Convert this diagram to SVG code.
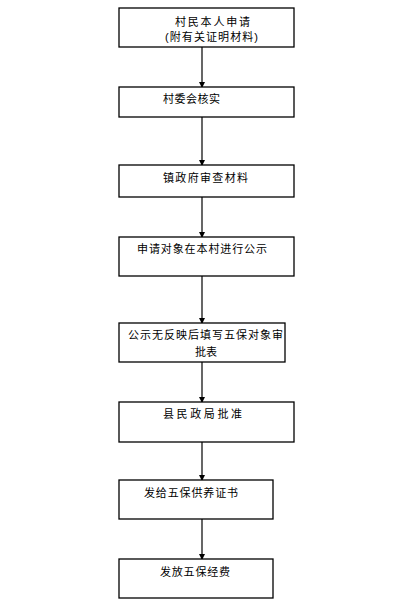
<svg xmlns="http://www.w3.org/2000/svg" width="408" height="611" viewBox="0 0 408 611">
<style>
.box{fill:#fff;stroke:#000;stroke-width:1.3}
.t{font-family:"Liberation Sans","Noto Sans CJK SC",sans-serif;font-size:11px;fill:#000}
.c{stroke:#000;stroke-width:1.2;fill:none}
</style>
<defs>
<marker id="ah" markerWidth="6" markerHeight="6" refX="5" refY="3" orient="auto" markerUnits="userSpaceOnUse">
<path d="M0,0 L6,3 L0,6 Z" fill="#000"/>
</marker>
</defs>
<rect width="408" height="611" fill="#fff"/>
<g id="connectors">
<line class="c" x1="202" y1="47" x2="202" y2="87" marker-end="url(#ah)"/>
<line class="c" x1="202" y1="117" x2="202" y2="165" marker-end="url(#ah)"/>
<line class="c" x1="202" y1="197" x2="202" y2="237" marker-end="url(#ah)"/>
<line class="c" x1="202" y1="276" x2="202" y2="323" marker-end="url(#ah)"/>
<line class="c" x1="202" y1="362" x2="202" y2="402" marker-end="url(#ah)"/>
<line class="c" x1="202" y1="442" x2="202" y2="480" marker-end="url(#ah)"/>
<line class="c" x1="202" y1="519" x2="202" y2="559" marker-end="url(#ah)"/>
</g>
<g id="n1">
<rect class="box" x="119" y="8" width="175" height="39"/>
<text class="t" x="175" y="26" textLength="75">村民本人申请</text>
<text class="t" x="165" y="41" textLength="93">(附有关证明材料)</text>
</g>
<g id="n2">
<rect class="box" x="119" y="87" width="175" height="30"/>
<text class="t" x="163" y="103" textLength="57">村委会核实</text>
</g>
<g id="n3">
<rect class="box" x="119" y="165" width="175" height="32"/>
<text class="t" x="163" y="182" textLength="85">镇政府审查材料</text>
</g>
<g id="n4">
<rect class="box" x="119" y="237" width="175" height="39"/>
<text class="t" x="137" y="253" textLength="130">申请对象在本村进行公示</text>
</g>
<g id="n5">
<rect class="box" x="119" y="323" width="166" height="39"/>
<text class="t" x="128" y="339" textLength="155">公示无反映后填写五保对象审</text>
<text class="t" x="195" y="356" textLength="22">批表</text>
</g>
<g id="n6">
<rect class="box" x="119" y="402" width="175" height="40"/>
<text class="t" x="163" y="418" textLength="79">县民政局批准</text>
</g>
<g id="n7">
<rect class="box" x="119" y="480" width="154" height="39"/>
<text class="t" x="144" y="497" textLength="94">发给五保供养证书</text>
</g>
<g id="n8">
<rect class="box" x="119" y="559" width="154" height="39"/>
<text class="t" x="160" y="576" textLength="70">发放五保经费</text>
</g>
</svg>
